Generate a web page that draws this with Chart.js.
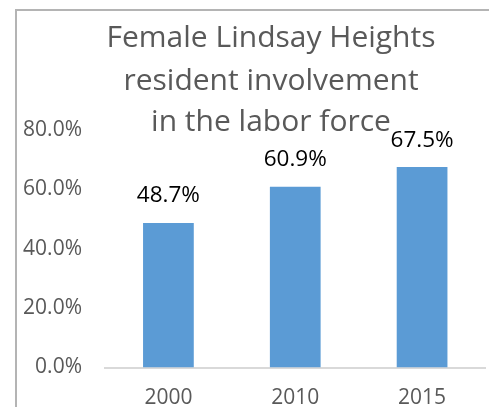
<!DOCTYPE html>
<html>
<head>
<meta charset="utf-8">
<script src="https://cdn.jsdelivr.net/npm/chart.js@4"></script>
<style>
  body { margin: 0; background: #fff; }
  #wrap { position: relative; width: 489px; height: 407px; overflow: hidden; }
  #frame { position: absolute; left: 15px; top: 9px; width: 600px; height: 600px;
           border-left: 2px solid #b4b4b4; border-top: 2px solid #b4b4b4; pointer-events: none; }
</style>
</head>
<body>
<div id="wrap">
  <canvas id="chart" width="489" height="407"></canvas>
  <div id="frame"></div>
</div>
<script>
const years = ["2000", "2010", "2015"]
const participation = [48.7, 60.9, 67.5]
const titleLines = ["Female Lindsay Heights", "resident involvement", "in the labor force"]

const ctxEl = document.getElementById("chart")

// title sits over the plot like the excel one, and the value labels above the bars
const overlay = {
    id: "overlay",
    afterDraw(chart) {
        const ctx = chart.ctx
        ctx.save()
        ctx.fillStyle = "#595959"
        ctx.font = "30px 'Open Sans'"
        ctx.textAlign = "center"
        ctx.textBaseline = "alphabetic"
        const base = [47, 90, 131]
        titleLines.forEach((t, i) => ctx.fillText(t, 271, base[i]))

        ctx.fillStyle = "#000"
        ctx.font = "22.5px 'Open Sans'"
        ctx.textBaseline = "middle"
        chart.getDatasetMeta(0).data.forEach((bar, i) => {
            ctx.fillText(participation[i].toFixed(1) + "%", bar.x, bar.y - 27)
        })
        ctx.restore()
    }
}

new Chart(ctxEl, {
    type: "bar",
    data: {
        labels: years,
        datasets: [{
            data: participation,
            backgroundColor: "#5b9bd5",
            categoryPercentage: 1,
            barPercentage: 0.4
        }]
    },
    options: {
        responsive: false,
        animation: false,
        layout: { padding: { top: 130, right: 3.5, left: 0, bottom: 0 } },
        scales: {
            x: {
                grid: { display: false, drawTicks: false },
                border: { display: true, color: "#d9d9d9", width: 2 },
                ticks: { color: "#595959", font: { family: "Open Sans", size: 21 }, padding: 18 },
                afterFit(s) { s.height = 39.5 }
            },
            y: {
                min: 0, max: 80,
                grid: { display: false, drawTicks: false },
                border: { display: false },
                ticks: {
                    stepSize: 20,
                    color: "#595959",
                    font: { family: "Open Sans", size: 21 },
                    padding: 23,
                    callback: v => v.toFixed(1) + "%"
                },
                afterFit(s) { s.width = 105 }
            }
        },
        plugins: {
            legend: { display: false },
            tooltip: { enabled: false },
            title: { display: false }
        }
    },
    plugins: [overlay]
})
</script>
</body>
</html>
